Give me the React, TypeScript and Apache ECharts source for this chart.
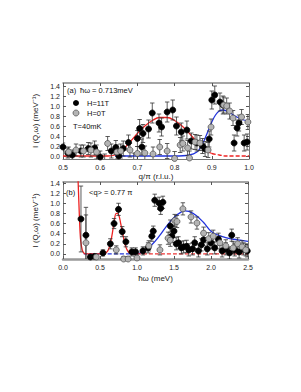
import React, { useEffect, useRef } from "react";
import * as echarts from "echarts";

// ---------- Panel (a): I vs q/pi at hbar*omega = 0.713 meV ----------
const topQ11 = [0.500,0.513,0.525,0.548,0.568,0.585,0.600,0.612,0.630,0.642,0.650,0.662,0.676,0.690,0.700,0.706,0.712,0.715,0.730,0.740,0.758,0.765,0.780,0.795,0.805,0.818,0.833,0.845,0.860,0.875,0.882,0.893,0.900,0.908,0.922,0.930,0.960,0.968,0.973,0.987,0.995];
const topI11 = [0.18,0.06,0.02,0.10,0.15,0.16,-0.02,-0.08,0.10,0.17,0.00,0.15,0.27,-0.08,0.35,0.55,0.18,0.45,0.54,0.86,0.66,0.58,0.88,0.92,0.60,0.48,0.52,0.30,0.26,0.20,0.14,0.34,1.12,1.22,1.08,1.02,0.26,0.56,0.66,0.26,0.28];
const topE11 = [0.08,0.10,0.10,0.12,0.12,0.14,0.12,0.12,0.14,0.14,0.12,0.15,0.15,0.14,0.16,0.18,0.16,0.18,0.18,0.20,0.18,0.18,0.20,0.20,0.18,0.18,0.18,0.16,0.16,0.15,0.15,0.16,0.18,0.18,0.18,0.18,0.16,0.16,0.16,0.16,0.16];

const topQ0 = [0.515,0.535,0.555,0.575,0.590,0.620,0.645,0.655,0.680,0.700,0.720,0.742,0.760,0.780,0.800,0.815,0.822,0.835,0.840,0.855,0.868,0.890,0.898,0.932,0.940,0.948,0.957,0.980,0.997];
const topI0 = [0.08,0.12,0.10,0.12,0.08,0.25,0.08,0.10,0.12,0.05,0.06,0.04,0.18,0.10,-0.05,0.22,0.25,0.16,-0.04,0.28,0.26,0.12,0.58,1.02,1.00,0.90,0.76,0.78,0.68];
const topE0 = [0.10,0.12,0.12,0.14,0.14,0.14,0.14,0.14,0.14,0.14,0.14,0.14,0.15,0.15,0.14,0.15,0.15,0.15,0.14,0.15,0.15,0.15,0.16,0.16,0.16,0.16,0.15,0.15,0.15];

// fit curves
const topRedQ = [0.50,0.62,0.64,0.66,0.68,0.70,0.72,0.74,0.76,0.78,0.80,0.82,0.84,0.86,0.88,0.90];
const topRedI = [0,0,0.02,0.12,0.28,0.45,0.60,0.71,0.77,0.77,0.71,0.60,0.45,0.28,0.13,0.05];
const topRedDashQ = [0.90,0.92,0.94,1.00];
const topRedDashI = [0.05,0.02,0.0,0.0];
const topBlueQ = [0.64,0.80,0.84,0.86,0.87,0.88,0.89,0.90,0.91,0.92,0.93,0.94,0.95,0.96,0.97,0.98,1.00];
const topBlueI = [0,0,0.02,0.08,0.18,0.32,0.50,0.68,0.82,0.90,0.92,0.90,0.86,0.81,0.77,0.73,0.70];

// ---------- Panel (b): I vs hbar*omega at <q> = 0.77 pi ----------
const botE11 = [0.243,0.310,0.370,0.430,0.540,0.640,0.690,0.750,0.800,0.850,0.930,0.980,1.080,1.150,1.200,1.220,1.240,1.300,1.320,1.350,1.450,1.470,1.500,1.530,1.560,1.600,1.630,1.670,1.700,1.750,1.780,1.830,1.870,1.900,1.950,2.000,2.050,2.100,2.150,2.200,2.250,2.280,2.320,2.380,2.440,2.490];
const botI11 = [0.69,0.37,-0.06,-0.05,0.02,0.20,0.60,0.88,0.44,0.24,0.04,0.04,0.06,0.12,0.35,0.45,1.06,1.00,0.90,1.02,0.55,0.35,0.45,0.20,0.22,0.12,0.14,0.15,0.08,0.10,0.22,0.06,0.18,0.28,0.10,0.22,0.12,0.29,0.06,0.10,0.02,0.37,0.08,0.04,0.10,0.06];
const botErr11 = [0.65,0.55,0.05,0.05,0.06,0.10,0.10,0.12,0.10,0.10,0.08,0.08,0.08,0.10,0.10,0.10,0.12,0.12,0.12,0.12,0.12,0.12,0.12,0.12,0.12,0.12,0.12,0.12,0.12,0.12,0.12,0.12,0.12,0.12,0.12,0.12,0.12,0.12,0.12,0.12,0.12,0.12,0.12,0.12,0.12,0.12];

const botE0 = [0.310,0.450,0.720,0.820,0.880,1.000,1.160,1.310,1.420,1.450,1.510,1.540,1.620,1.730,1.810,1.900,1.970,2.030,2.120,2.200,2.300,2.360,2.420,2.470];
const botI0 = [0.22,-0.06,0.08,-0.10,-0.10,-0.08,0.16,0.08,0.31,0.27,0.66,0.64,0.89,0.73,0.61,0.41,0.30,0.35,0.22,0.16,0.12,0.20,0.14,0.08];
const botErr0 = [0.55,0.05,0.08,0.05,0.05,0.06,0.10,0.10,0.12,0.12,0.12,0.12,0.12,0.12,0.12,0.12,0.12,0.12,0.12,0.12,0.12,0.12,0.12,0.12];

const botRedE = [0.200,0.210,0.220,0.230,0.240,0.260,0.280,0.300,0.550,0.600,0.630,0.660,0.690,0.720,0.750,0.780,0.810,0.840,0.870,0.900,0.950,1.000];
const botRedI = [1.60,1.20,0.80,0.45,0.25,0.08,0.02,0,0,0.05,0.15,0.35,0.62,0.80,0.78,0.60,0.38,0.18,0.07,0.02,0,0];
const botRedDashE = [1.00,2.50];
const botRedDashI = [0,0];
const botBlueDashE = [0.28,1.00];
const botBlueDashI = [0,0];
const botBlueE = [1.00,1.05,1.10,1.20,1.30,1.40,1.50,1.60,1.65,1.70,1.80,1.90,2.00,2.10,2.20,2.30,2.40,2.50];
const botBlueI = [0.0,0.02,0.06,0.18,0.35,0.55,0.72,0.83,0.85,0.84,0.76,0.62,0.45,0.37,0.32,0.29,0.27,0.25];

const topYTicks = [0, 0.2, 0.4, 0.6, 0.8, 1.0, 1.2, 1.4];
const topXTicks = [0.5, 0.6, 0.7, 0.8, 0.9, 1.0];
const botYTicks = [0, 0.2, 0.4, 0.6, 0.8, 1.0, 1.2, 1.4];
const botXTicks = [0, 0.5, 1.0, 1.5, 2.0, 2.5];

const FONT = "Liberation Sans";

function zip(a: number[], b: number[], c?: number[]) {
  return a.map((v, i) => (c ? [v, b[i], c[i]] : [v, b[i]]));
}

function errRender(params: any, api: any) {
  const x = api.value(0);
  const y = api.value(1);
  const e = api.value(2);
  const lo = api.coord([x, y - e]);
  const hi = api.coord([x, y + e]);
  const w = 2.2;
  const st = { stroke: "#333", lineWidth: 0.8 };
  return {
    type: "group",
    children: [
      { type: "line", shape: { x1: lo[0], y1: lo[1], x2: hi[0], y2: hi[1] }, style: st },
      { type: "line", shape: { x1: lo[0] - w, y1: lo[1], x2: lo[0] + w, y2: lo[1] }, style: st },
      { type: "line", shape: { x1: hi[0] - w, y1: hi[1], x2: hi[0] + w, y2: hi[1] }, style: st },
    ],
  };
}

export default function App() {
  const ref = useRef<HTMLDivElement>(null);
  useEffect(() => {
    if (!ref.current) return;
    const chart = echarts.init(ref.current, undefined, { renderer: "svg" });
    const label = { fontFamily: FONT, fontSize: 7, color: "#222" };
    const fmt1 = (v: number) => v.toFixed(1);

    const xAxisBase = (gi: number, min: number, max: number, ticks: number[]) => ({
      type: "value",
      gridIndex: gi,
      min,
      max,
      axisLine: { show: true, onZero: false, lineStyle: { color: "#777", width: 1 } },
      axisTick: { show: true, inside: true, length: 3, customValues: ticks, lineStyle: { color: "#555" } },
      axisLabel: { ...label, margin: 5, customValues: ticks, formatter: fmt1 },
      splitLine: { show: false },
    });
    const xAxisTop = (gi: number, min: number, max: number, ticks: number[]) => ({
      type: "value",
      gridIndex: gi,
      position: "top",
      min,
      max,
      axisLine: { show: true, onZero: false, lineStyle: { color: "#888", width: 1.5 } },
      axisTick: { show: true, inside: true, length: 3, customValues: ticks, lineStyle: { color: "#555" } },
      axisLabel: { show: false },
      splitLine: { show: false },
    });
    const yAxisLeft = (gi: number, min: number, max: number, ticks: number[]) => ({
      type: "value",
      gridIndex: gi,
      min,
      max,
      name: "I (Q,ω) (meV⁻¹)",
      nameLocation: "middle",
      nameGap: 17,
      nameTextStyle: { fontFamily: FONT, fontSize: 8, color: "#222" },
      axisLine: { show: true, onZero: false, lineStyle: { color: "#777" } },
      axisTick: { show: true, inside: true, length: 3, customValues: ticks, lineStyle: { color: "#555" } },
      axisLabel: { ...label, margin: 3, customValues: ticks, formatter: fmt1 },
      splitLine: { show: false },
    });
    const yAxisRight = (gi: number, min: number, max: number, ticks: number[]) => ({
      type: "value",
      gridIndex: gi,
      position: "right",
      min,
      max,
      axisLine: { show: true, onZero: false, lineStyle: { color: "#777" } },
      axisTick: { show: true, inside: true, length: 3, customValues: ticks, lineStyle: { color: "#555" } },
      axisLabel: { show: false },
      splitLine: { show: false },
    });

    const lineS = (xi: number, yi: number, data: number[][], color: string, dashed = false) => ({
      type: "line",
      xAxisIndex: xi,
      yAxisIndex: yi,
      data,
      smooth: 0.4,
      symbol: "none",
      clip: true,
      lineStyle: { color, width: 1.3, type: dashed ? [4, 2] : "solid" },
      z: 2,
    });
    const errS = (xi: number, yi: number, data: number[][]) => ({
      type: "custom",
      xAxisIndex: xi,
      yAxisIndex: yi,
      data,
      renderItem: errRender,
      clip: true,
      z: 3,
    });
    const dotS = (xi: number, yi: number, data: number[][], fill: string, stroke: string) => ({
      type: "scatter",
      xAxisIndex: xi,
      yAxisIndex: yi,
      data,
      symbolSize: 6,
      itemStyle: { color: fill, borderColor: stroke, borderWidth: 0.8, opacity: 1 },
      clip: true,
      z: 4,
    });

    const txt = (x: number, y: number, text: string, size = 7.5) => ({
      type: "text",
      x,
      y,
      style: { text, fontFamily: FONT, fontSize: size, fill: "#111", textVerticalAlign: "middle" },
      z: 10,
    });

    chart.setOption({
      animation: false,
      backgroundColor: "#fff",
      grid: [
        { left: 63, top: 83, width: 186, height: 76 },
        { left: 63, top: 182, width: 185, height: 77 },
      ],
      xAxis: [
        {
          ...xAxisBase(0, 0.5, 1.0, topXTicks),
          name: "q/π (r.l.u.)",
          nameLocation: "middle",
          nameGap: 13,
          nameTextStyle: { fontFamily: FONT, fontSize: 8, color: "#222" },
        },
        {
          ...xAxisBase(1, 0, 2.5, botXTicks),
          axisLine: { show: true, onZero: false, lineStyle: { color: "#999", width: 2.5 } },
          name: "ħω (meV)",
          nameLocation: "middle",
          nameGap: 15,
          nameTextStyle: { fontFamily: FONT, fontSize: 8, color: "#222" },
        },
        xAxisTop(0, 0.5, 1.0, topXTicks),
        xAxisTop(1, 0, 2.5, botXTicks),
      ],
      yAxis: [
        yAxisLeft(0, -0.06, 1.46, topYTicks),
        yAxisLeft(1, -0.1, 1.42, botYTicks),
        yAxisRight(0, -0.06, 1.46, topYTicks),
        yAxisRight(1, -0.1, 1.42, botYTicks),
      ],
      series: [
        // panel a
        lineS(0, 0, zip(topBlueQ, topBlueI), "#2233dd"),
        lineS(0, 0, zip(topRedQ, topRedI), "#ee2222"),
        lineS(0, 0, zip(topRedDashQ, topRedDashI), "#ee2222", true),
        errS(0, 0, zip(topQ11, topI11, topE11)),
        errS(0, 0, zip(topQ0, topI0, topE0)),
        dotS(0, 0, zip(topQ11, topI11), "#000", "#000"),
        dotS(0, 0, zip(topQ0, topI0), "#b4b4b4", "#555"),
        // panel b
        lineS(1, 1, zip(botBlueDashE, botBlueDashI), "#2233dd", true),
        lineS(1, 1, zip(botBlueE, botBlueI), "#2233dd"),
        lineS(1, 1, zip(botRedDashE, botRedDashI), "#ee3333", true),
        lineS(1, 1, zip(botRedE, botRedI), "#ee2222"),
        errS(1, 1, zip(botE11, botI11, botErr11)),
        errS(1, 1, zip(botE0, botI0, botErr0)),
        dotS(1, 1, zip(botE11, botI11), "#000", "#000"),
        dotS(1, 1, zip(botE0, botI0), "#b4b4b4", "#555"),
      ],
      graphic: [
        txt(67, 90, "(a)"),
        txt(80, 90, "ħω = 0.713meV"),
        { type: "circle", shape: { cx: 76, cy: 103, r: 3 }, style: { fill: "#000" }, z: 10 },
        txt(87, 103, "H=11T"),
        { type: "circle", shape: { cx: 76, cy: 113, r: 3 }, style: { fill: "#b4b4b4", stroke: "#555", lineWidth: 0.8 }, z: 10 },
        txt(87, 113, "H=0T"),
        txt(73, 126, "T=40mK"),
        txt(66, 192, "(b)"),
        txt(89, 192, "<q> = 0.77 π"),
      ],
    });
    return () => chart.dispose();
  }, []);
  return (
    <div
      ref={ref}
      style={{ position: "fixed", left: 0, top: 0, width: 301, height: 392, background: "#fff" }}
    />
  );
}
